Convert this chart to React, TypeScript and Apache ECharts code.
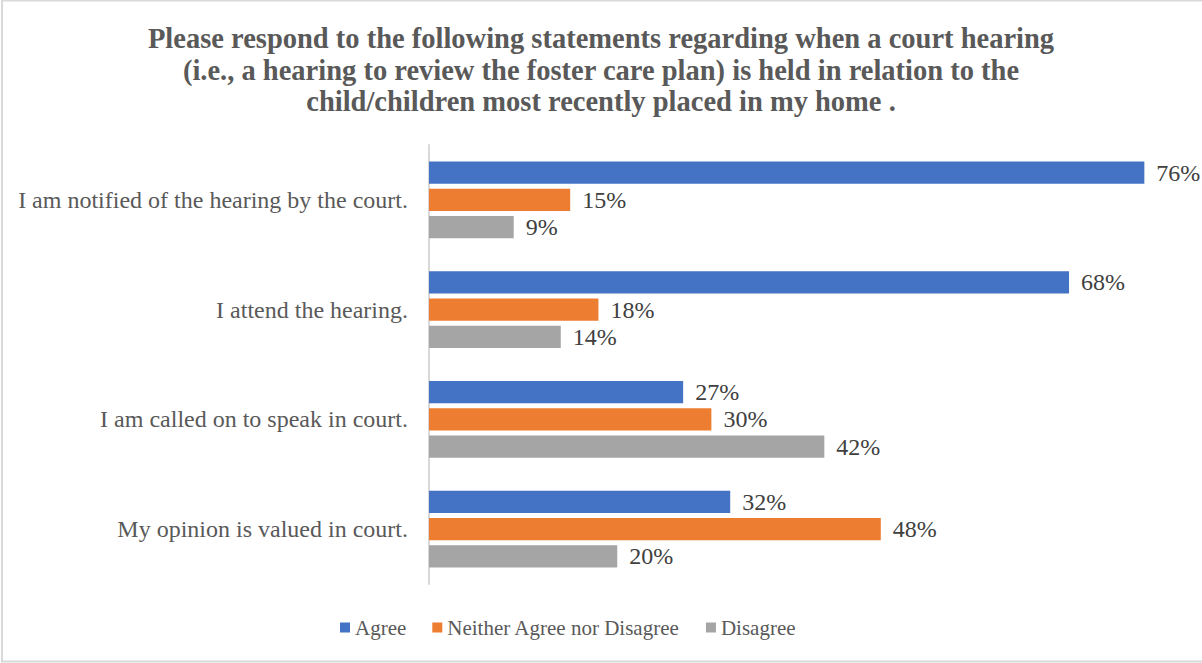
import React, { useEffect, useRef } from "react";
import * as echarts from "echarts";

const titleLines = [
  "Please respond to the following statements regarding when a court hearing",
  "(i.e., a hearing to review the foster care plan) is held in relation to the",
  "child/children most recently placed in my home .",
];
const categories = [
  "I am notified of the hearing by the court.",
  "I attend the hearing.",
  "I am called on to speak in court.",
  "My opinion is valued in court.",
];
const seriesNames = ["Agree", "Neither Agree nor Disagree", "Disagree"];
const agree = [76, 68, 27, 32];
const neither = [15, 18, 30, 48];
const disagree = [9, 14, 42, 20];
const colors = ["#4472C4", "#ED7D31", "#A5A5A5"];

export default function App() {
  const ref = useRef<HTMLDivElement>(null);
  useEffect(() => {
    if (!ref.current) return;
    const chart = echarts.init(ref.current, null, { renderer: "svg" });
    const font = "Liberation Serif";
    const values = [agree, neither, disagree];
    chart.setOption({
      animation: false,
      backgroundColor: "#ffffff",
      textStyle: { fontFamily: font },
      title: {
        text: titleLines.join("\n"),
        left: "center",
        top: 18,
        textStyle: {
          fontFamily: font,
          fontSize: 28.5,
          fontWeight: "bold",
          color: "#595959",
          lineHeight: 31.5,
        },
      },
      legend: {
        bottom: 20,
        left: 335,
        itemWidth: 10,
        itemHeight: 10,
        itemGap: 26,
        icon: "rect",
        textStyle: { fontFamily: font, fontSize: 21, color: "#595959" },
        data: seriesNames,
      },
      grid: { left: 429, top: 145, height: 439, right: 20, containLabel: false },
      xAxis: {
        type: "value",
        min: 0,
        max: 80,
        show: false,
      },
      yAxis: {
        type: "category",
        inverse: true,
        data: categories,
        axisLine: { show: true, lineStyle: { color: "#D9D9D9", width: 2 } },
        axisTick: { show: false },
        axisLabel: { fontFamily: font, fontSize: 24, color: "#595959", margin: 21 },
      },
      graphic: [
        {
          type: "rect",
          shape: { x: 2, y: 0.5, width: 1220, height: 661 },
          style: { fill: "none", stroke: "#D9D9D9", lineWidth: 2 },
          silent: true,
        },
      ],
      series: seriesNames.map((name, i) => ({
        name,
        type: "bar",
        data: values[i],
        itemStyle: { color: colors[i] },
        barGap: "23%",
        barCategoryGap: "30%",
        label: {
          show: true,
          position: "right",
          distance: 12,
          formatter: "{c}%",
          fontFamily: font,
          fontSize: 24,
          color: "#404040",
        },
      })),
    });
    return () => chart.dispose();
  }, []);
  return (
    <div style={{ position: "fixed", left: 0, top: 0, width: 1202, height: 663 }}>
      <div ref={ref} style={{ width: 1202, height: 663 }} />
    </div>
  );
}
